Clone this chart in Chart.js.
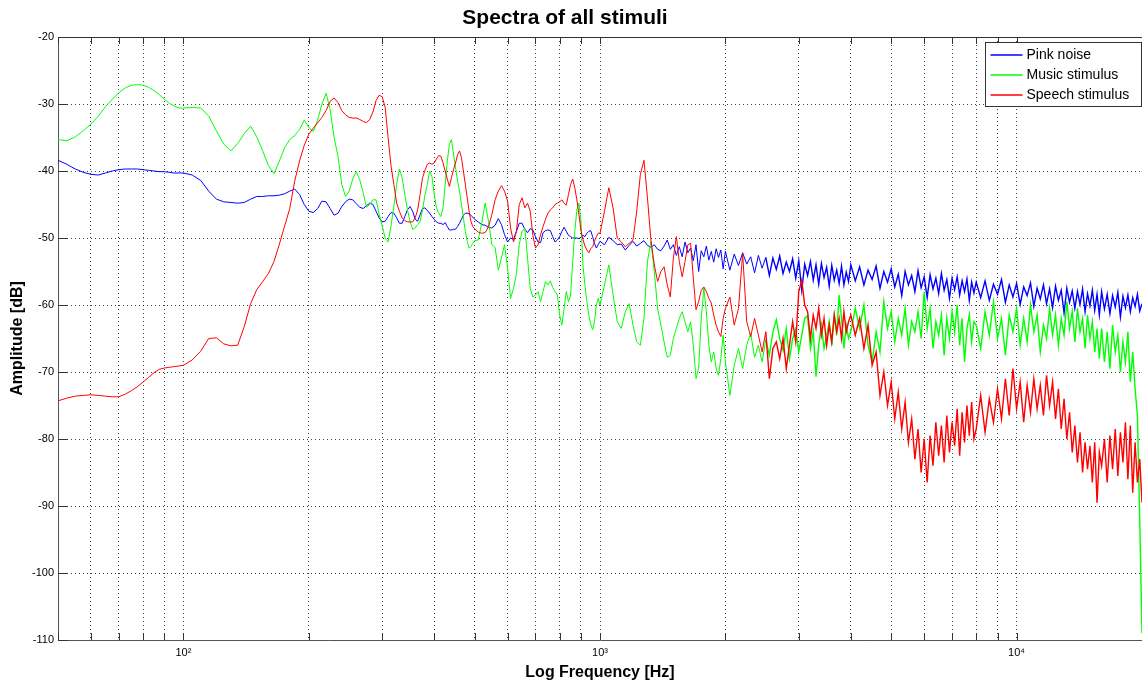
<!DOCTYPE html>
<html>
<head>
<meta charset="utf-8">
<title>Spectra of all stimuli</title>
<script src="https://cdn.jsdelivr.net/npm/chart.js@4.4.1/dist/chart.umd.min.js"></script>
<style>
  html, body { margin: 0; padding: 0; background: #fff; }
  #wrap { width: 1142px; height: 682px; }
</style>
</head>
<body>
<div id="wrap"><canvas id="spectraChart" width="1142" height="682"></canvas></div>
<script>
// Spectra of all stimuli
const freqHz = [
  50, 52.5, 55, 57.5, 60, 62.5, 65, 67.5, 70, 72.5, 75, 77.5, 80, 82.5, 85, 87.5, 90, 92.5, 95, 97.5,
  100, 105, 110, 115, 120, 125, 130, 135, 140, 145, 150, 155, 160, 165, 170, 175, 180, 185, 190, 195,
  200, 205, 210, 215, 220, 225, 230, 235, 240, 245, 250, 255, 260, 265, 270, 275, 280, 285, 290, 295,
  300, 305, 310, 315, 320, 325, 330, 335, 340, 345, 350, 355, 360, 365, 370, 375, 380, 385, 390, 395,
  400, 405, 410, 415, 420, 425, 430, 435, 440, 445, 450, 455, 460, 465, 470, 475, 480, 485, 490, 495,
  500, 510, 520, 530, 540, 550, 560, 570, 580, 590, 600, 610, 620, 630, 640, 650, 660, 670, 680, 690,
  700, 710, 720, 730, 740, 750, 760, 770, 780, 790, 800, 810, 820, 830, 840, 850, 860, 870, 880, 890,
  900, 910, 920, 930, 940, 950, 960, 970, 980, 990,
  1000, 1025, 1050, 1075, 1100, 1125, 1150, 1175, 1200, 1225, 1250, 1275, 1300, 1325, 1350, 1375, 1400, 1425, 1450, 1475,
  1500, 1525, 1550, 1575, 1600, 1625, 1650, 1675, 1700, 1725, 1750, 1775, 1800, 1825, 1850, 1875, 1900, 1925, 1950, 1975,
  2000, 2050, 2100, 2150, 2200, 2250, 2300, 2350, 2400, 2450, 2500, 2550, 2600, 2650, 2700, 2750, 2800, 2850, 2900, 2950,
  3000, 3050, 3100, 3150, 3200, 3250, 3300, 3350, 3400, 3450, 3500, 3550, 3600, 3650, 3700, 3750, 3800, 3850, 3900, 3950,
  4000, 4100, 4200, 4300, 4400, 4500, 4600, 4700, 4800, 4900, 5000, 5100, 5200, 5300, 5400, 5500, 5600, 5700, 5800, 5900,
  6000, 6100, 6200, 6300, 6400, 6500, 6600, 6700, 6800, 6900, 7000, 7100, 7200, 7300, 7400, 7500, 7600, 7700, 7800, 7900,
  8000, 8200, 8400, 8600, 8800, 9000, 9200, 9400, 9600, 9800, 10000, 10200, 10400, 10600, 10800, 11000, 11200, 11400, 11600, 11800,
  12000, 12200, 12400, 12600, 12800, 13000, 13200, 13400, 13600, 13800, 14000, 14200, 14400, 14600, 14800, 15000, 15200, 15400, 15600, 15800,
  16000, 16250, 16500, 16750, 17000, 17250, 17500, 17750, 18000, 18250, 18500, 18750, 19000, 19250, 19500, 19750, 20000
];

const pinkNoiseDb = [
  -38.4, -39.0, -39.7, -40.2, -40.5, -40.6, -40.3, -40.0, -39.8, -39.7, -39.7, -39.7, -39.8, -39.9, -40.0, -40.1, -40.1, -40.2, -40.3, -40.3,
  -40.3, -40.6, -41.4, -43.0, -44.2, -44.6, -44.7, -44.8, -44.7, -44.2, -43.8, -43.8, -43.7, -43.7, -43.6, -43.4, -43.0, -42.7, -43.5, -45.0,
  -46.0, -46.2, -45.6, -44.5, -44.6, -45.6, -46.6, -46.3, -45.3, -44.6, -44.2, -44.3, -44.9, -45.4, -45.6, -45.2, -44.8, -45.0, -46.0, -47.0,
  -47.6, -47.5, -46.8, -46.2, -46.3, -47.0, -47.8, -47.8, -46.8, -45.8, -45.3, -46.0, -47.2, -47.5, -46.5, -45.6, -45.5, -45.9, -46.3, -46.8,
  -47.2, -47.6, -47.8, -47.8, -48.0, -47.7, -48.3, -48.8, -48.8, -48.7, -48.7, -48.3, -47.8, -47.2, -46.6, -46.3, -46.3, -46.4, -46.6, -46.9,
  -47.2, -47.6, -48.0, -48.1, -48.4, -48.5, -48.1, -47.1, -48.0, -49.5, -50.6, -50.0, -50.2, -49.0, -47.8, -47.8, -48.7, -49.2, -48.6, -48.8,
  -49.8, -50.6, -50.7, -49.2, -48.9, -48.8, -48.9, -49.8, -50.6, -50.3, -49.8, -49.0, -48.4, -49.0, -49.6, -49.8, -50.0, -50.0, -50.0, -50.1,
  -49.9, -49.6, -49.8, -49.3, -49.0, -48.9, -49.8, -50.8, -51.5, -51.0,
  -50.5, -51.0, -49.9, -50.4, -51.0, -50.9, -51.8, -51.1, -50.5, -51.2, -50.8, -50.4, -51.1, -51.4, -51.0, -51.7, -51.9, -51.2, -50.3, -51.7,
  -51.0, -52.6, -51.3, -52.8, -50.6, -52.2, -51.5, -53.4, -51.0, -55.0, -51.9, -52.8, -51.2, -53.3, -52.0, -53.6, -51.6, -52.9, -51.8, -54.6,
  -52.0, -54.8, -52.4, -54.1, -52.2, -53.9, -52.8, -55.2, -52.6, -54.5, -52.9, -55.6, -53.0, -54.7, -52.7, -55.3, -53.6, -55.0, -53.1, -56.0,
  -53.4, -57.8, -53.9, -55.6, -53.5, -56.3, -54.0, -56.9, -53.8, -55.9, -54.4, -57.2, -54.1, -56.3, -54.8, -56.8, -54.2, -57.0, -55.1, -56.5,
  -54.0, -56.4, -54.3, -57.0, -54.8, -56.2, -54.2, -57.5, -55.0, -56.6, -54.6, -57.3, -55.4, -58.6, -55.0, -57.0, -55.6, -58.0, -54.9, -57.4,
  -55.8, -58.9, -55.5, -57.6, -56.0, -58.3, -55.3, -57.8, -56.2, -59.0, -56.0, -57.7, -55.8, -58.5, -56.4, -58.0, -56.1, -59.3, -56.6, -58.2,
  -56.6, -58.9, -56.4, -59.3, -56.9, -58.4, -56.2, -59.6, -57.0, -58.8, -56.8, -59.9, -57.3, -58.6, -56.7, -60.2, -57.5, -59.1, -57.0, -59.8,
  -57.6, -60.4, -57.2, -59.3, -57.8, -61.2, -57.5, -59.6, -57.9, -60.5, -58.0, -59.9, -57.6, -61.0, -58.3, -60.1, -57.8, -60.8, -58.4, -61.5,
  -58.0, -60.6, -58.4, -61.3, -58.6, -60.3, -58.1, -61.8, -58.7, -60.4, -58.5, -61.0, -58.9, -60.2, -58.4, -60.9, -59.8
];

const musicDb = [
  -35.3, -35.5, -34.9, -34.0, -33.0, -31.8, -30.4, -29.3, -28.3, -27.6, -27.2, -27.1, -27.2, -27.5, -28.0, -28.6, -29.3, -29.9, -30.3, -30.6,
  -30.6, -30.5, -30.6, -31.8, -34.0, -36.0, -37.0, -35.9, -34.4, -33.3, -34.9, -37.0, -39.2, -40.4, -38.5, -36.5, -35.3, -34.7, -33.8, -32.4,
  -33.5, -34.1, -32.4, -30.0, -28.4, -30.8, -35.0, -37.8, -42.0, -43.8, -43.0, -41.2, -40.1, -41.3, -43.2, -45.4, -45.0, -44.3, -44.3, -46.4,
  -48.2, -50.0, -50.6, -48.2, -45.3, -42.0, -39.7, -41.0, -43.5, -45.8, -47.5, -48.7, -48.5, -48.0, -47.6, -45.8, -43.6, -42.0, -40.0, -40.8,
  -43.5, -45.5, -46.3, -46.8, -45.5, -42.0, -38.5, -36.0, -35.3, -37.5, -39.5, -41.5, -43.0, -45.0, -47.0, -49.0, -50.5, -51.5, -51.3, -50.8,
  -50.4, -50.3, -47.8, -44.8, -47.5, -51.0, -51.4, -54.8, -53.0, -51.0, -54.5, -59.0, -57.5, -55.3, -51.0, -49.0, -48.5, -53.0, -57.5, -58.8,
  -58.5, -58.0, -59.5, -58.0, -56.5, -57.0, -56.4, -57.4, -58.0, -58.5, -61.5, -63.0, -60.5, -58.0, -59.5, -58.5, -53.5, -49.0, -45.8, -44.8,
  -47.5, -54.0, -57.0, -59.5, -61.5, -62.8, -63.7, -62.5, -60.0, -59.0,
  -60.0, -57.0, -54.0, -58.5, -62.5, -63.5, -61.0, -59.8, -63.0, -65.5, -66.0, -62.0, -53.5, -50.5, -55.0, -60.5, -63.0, -65.5, -67.8, -67.5,
  -65.0, -63.5, -62.0, -61.0, -62.5, -64.0, -62.5, -66.0, -71.0, -69.5, -62.0, -57.5, -61.0, -66.0, -68.5, -67.0, -69.5, -70.5, -68.0, -64.5,
  -68.5, -73.5, -69.0, -66.5, -69.5, -66.0, -64.2, -67.8, -66.0, -68.5, -65.2, -67.5, -64.0, -62.2, -65.0, -66.8, -63.5, -68.0, -65.0, -63.6,
  -67.0, -64.5, -62.0, -61.6, -66.5, -64.0, -70.7, -66.0, -63.0, -66.5, -64.7, -62.5, -66.0, -61.5, -64.5, -58.5, -62.0, -66.5, -63.0, -65.0,
  -64.0, -60.5, -63.5, -60.0, -66.0, -68.5, -64.0, -67.0, -59.5, -63.5, -61.0, -65.5, -62.0, -64.5, -60.5, -66.0, -62.5, -64.0, -61.0, -65.0,
  -58.0, -63.5, -60.5, -66.5, -62.5, -64.5, -61.5, -67.5, -62.0, -65.0, -61.0, -64.0, -60.0, -66.0, -62.0, -68.5, -63.5, -61.5, -65.5, -62.5,
  -63.0, -66.5, -61.0, -64.5, -59.5, -65.0, -62.0, -67.5, -61.5, -64.0, -60.5, -66.0, -62.0, -65.5, -60.0, -64.0, -61.5, -67.0, -63.0, -65.0,
  -60.5, -64.5, -61.5, -66.0, -62.0, -64.5, -59.5, -63.5, -61.0, -65.5, -60.5, -64.0, -62.0, -66.5, -61.5, -65.0, -62.5, -67.0, -63.5, -68.0,
  -63.5, -68.5, -64.0, -69.5, -63.0, -67.0, -64.5, -70.0, -65.5, -68.5, -64.0, -71.5, -67.0, -72.5, -76.5, -92.0, -109.0
];

const speechDb = [
  -74.3, -73.9, -73.6, -73.5, -73.4, -73.5, -73.6, -73.7, -73.7, -73.3, -72.8, -72.2, -71.5, -70.8, -70.1, -69.6, -69.4, -69.3, -69.2, -69.1,
  -69.0, -68.2, -66.9, -65.0, -64.9, -65.8, -66.1, -66.0, -63.2, -59.8, -57.7, -56.5, -55.3, -53.5, -50.9, -48.2, -45.6, -41.5, -38.5, -36.2,
  -34.5, -33.6, -32.8, -32.0, -31.0, -29.6, -29.1, -29.8, -31.0, -31.6, -32.0, -32.1, -32.1, -32.3, -32.6, -32.8, -32.3, -31.2, -29.5, -28.7,
  -28.9, -30.5, -35.0, -39.2, -42.0, -44.8, -46.0, -47.0, -47.4, -47.6, -47.6, -47.6, -47.0, -45.8, -43.5, -41.0, -39.9, -39.0, -38.8, -39.0,
  -38.8, -38.2, -37.7, -37.8, -38.8, -40.0, -41.2, -42.3, -41.0, -39.8, -38.8, -37.6, -37.0, -38.0, -40.0, -42.0, -44.0, -46.0, -47.5, -48.3,
  -48.6, -49.1, -49.3, -49.2, -48.3, -46.5, -44.3, -43.0, -42.2, -43.0, -44.5, -48.5, -50.6, -49.0, -45.0, -44.0, -45.5, -44.8, -46.0, -49.6,
  -51.5, -51.0, -49.5, -48.3, -47.2, -46.3, -45.8, -45.5, -45.0, -44.8, -44.6, -44.3, -44.8, -45.1, -43.5, -42.0, -41.2, -42.5, -44.3, -46.5,
  -48.8, -50.2, -51.2, -51.8, -52.2, -51.6, -51.3, -50.5, -49.8, -49.3,
  -49.3, -46.0, -42.5, -45.5, -50.0, -50.6, -51.3, -50.8, -50.3, -46.0, -40.5, -38.4, -44.0, -50.3, -54.0, -56.5, -55.0, -54.3, -57.0, -58.8,
  -53.0, -49.8, -53.5, -55.8, -53.5, -51.0, -50.8, -56.0, -60.7, -59.5, -57.8, -57.3, -58.0, -59.0, -59.7, -61.5, -63.0, -64.0, -64.7, -62.0,
  -60.5, -58.8, -63.0, -60.5, -52.3, -62.5, -64.7, -62.0, -64.5, -67.0, -64.0, -71.0, -66.5, -65.5, -68.0, -65.0, -69.5, -66.0, -62.5, -65.5,
  -58.0, -56.3, -60.0, -61.0, -65.0, -61.5, -63.5, -60.5, -64.5, -62.0, -66.0, -63.0, -65.5, -61.5, -64.0, -62.0, -65.0, -61.0, -64.0, -62.5,
  -61.5, -64.5, -62.0, -66.5, -63.0, -69.0, -67.0, -73.5, -70.0, -75.0, -71.5, -77.0, -73.0, -78.5, -74.5, -80.5, -77.0, -83.0, -78.5, -85.0,
  -80.0, -86.5, -79.5, -84.0, -77.5, -82.5, -78.0, -83.5, -76.5, -82.0, -77.5, -81.0, -75.5, -82.5, -76.0, -80.5, -75.0, -79.5, -74.5, -80.0,
  -78.5, -73.5, -79.0, -74.0, -77.5, -72.5, -77.0, -71.0, -76.5, -69.5, -75.5, -71.5, -77.5, -72.0, -76.0, -71.0, -75.5, -72.0, -76.5, -70.5,
  -75.0, -71.5, -77.0, -72.5, -78.5, -74.0, -80.0, -76.0, -82.0, -78.0, -83.5, -79.0, -85.0, -80.5, -84.5, -81.0, -86.5, -80.5, -89.5, -82.0,
  -84.0, -80.0, -86.5, -79.5, -84.5, -78.5, -85.5, -79.0, -83.5, -77.5, -86.0, -78.0, -88.0, -80.5, -86.5, -83.0, -89.5
];

const chartTitle = 'Spectra of all stimuli';
const seriesLabels = ['Pink noise', 'Music stimulus', 'Speech stimulus'];
const seriesColors = ['#0000ff', '#00ff00', '#ff0000'];

// grid lines of the log axis, labels only at the decades
const xGridHz = [50, 60, 70, 80, 90, 100, 200, 300, 400, 500, 600, 700, 800, 900,
  1000, 2000, 3000, 4000, 5000, 6000, 7000, 8000, 9000, 10000];
const xTickLabels = { 100: '10²', 1000: '10³', 10000: '10⁴' };
const yTicks = [-110, -100, -90, -80, -70, -60, -50, -40, -30, -20];

const FONT = '"Liberation Sans", Arial, Helvetica, sans-serif';

function toPoints(values) {
  const n = Math.min(freqHz.length, values.length);
  const pts = [];
  for (let i = 0; i < n; i++) pts.push({ x: freqHz[i], y: values[i] });
  return pts;
}

// title, top border, inward tick marks and the boxed legend inside the axes
const matlabFrame = {
  id: 'matlabFrame',
  afterDraw(chart) {
    const { ctx, chartArea: a, scales: { x, y } } = chart;
    ctx.save();

    ctx.fillStyle = '#000';
    ctx.font = 'bold 21px ' + FONT;
    ctx.textAlign = 'center';
    ctx.textBaseline = 'middle';
    ctx.fillText(chartTitle, 565, 18);

    ctx.strokeStyle = '#333';
    ctx.lineWidth = 1;
    ctx.beginPath();
    ctx.moveTo(a.left, Math.round(a.top) + 0.5);
    ctx.lineTo(a.right, Math.round(a.top) + 0.5);
    xGridHz.forEach(f => {
      const px = Math.round(x.getPixelForValue(f)) + 0.5;
      ctx.moveTo(px, a.bottom);
      ctx.lineTo(px, a.bottom - 7);
      ctx.moveTo(px, a.top);
      ctx.lineTo(px, a.top + 7);
    });
    yTicks.forEach(v => {
      const py = Math.round(y.getPixelForValue(v)) + 0.5;
      ctx.moveTo(a.left, py);
      ctx.lineTo(a.left + 10, py);
    });
    ctx.stroke();

    // legend
    const lw = 156, lh = 64;
    const lx = Math.round(a.right) - lw - 0.5;
    const ly = Math.round(a.top) + 5.5;
    ctx.fillStyle = '#fff';
    ctx.fillRect(lx, ly, lw, lh);
    ctx.strokeStyle = '#333';
    ctx.strokeRect(lx, ly, lw, lh);
    ctx.font = '14px ' + FONT;
    ctx.textAlign = 'left';
    seriesLabels.forEach((label, i) => {
      const rowY = Math.round(ly + 12 + i * 20);
      ctx.strokeStyle = seriesColors[i];
      ctx.lineWidth = 1.6;
      ctx.beginPath();
      ctx.moveTo(lx + 5, rowY);
      ctx.lineTo(lx + 37, rowY);
      ctx.stroke();
      ctx.fillStyle = '#000';
      ctx.fillText(label, lx + 41, rowY);
    });
    ctx.restore();
  }
};

Chart.defaults.font.family = FONT;
Chart.defaults.color = '#000';

new Chart(document.getElementById('spectraChart'), {
  type: 'line',
  data: {
    datasets: [pinkNoiseDb, musicDb, speechDb].map((values, i) => ({
      label: seriesLabels[i],
      data: toPoints(values),
      borderColor: seriesColors[i],
      backgroundColor: seriesColors[i],
      borderWidth: 1,
      // the dense noise above ~2.5 kHz reads as a solid band in the original
      segment: { borderWidth: (c) => (c.p0.parsed.x >= 2500 ? 1.4 : 1) },
      pointRadius: 0,
      tension: 0,
      fill: false,
      order: 3 - i
    }))
  },
  options: {
    responsive: false,
    animation: false,
    layout: { padding: { top: 37, left: 0, right: 0, bottom: 0 } },
    plugins: {
      legend: { display: false },
      tooltip: { enabled: false },
      title: { display: false }
    },
    scales: {
      x: {
        type: 'logarithmic',
        min: 50,
        max: 20000,
        afterBuildTicks: (scale) => {
          scale.ticks = xGridHz.map(v => ({ value: v }));
        },
        afterFit: (scale) => { scale.height = 42; },
        ticks: {
          autoSkip: false,
          maxRotation: 0,
          padding: 6,
          font: { size: 11 },
          callback: (value) => xTickLabels[value] || ''
        },
        grid: { color: 'rgba(0,0,0,0.75)', lineWidth: 1, drawTicks: false },
        border: { display: true, color: '#555', width: 1, dash: [1, 3] },
        title: {
          display: true,
          text: 'Log Frequency [Hz]',
          font: { size: 16, weight: 'bold' },
          padding: { top: 0, bottom: 0 }
        }
      },
      y: {
        type: 'linear',
        min: -110,
        max: -20,
        afterBuildTicks: (scale) => {
          scale.ticks = yTicks.map(v => ({ value: v }));
        },
        afterFit: (scale) => { scale.width = 58; },
        ticks: { padding: 4, font: { size: 11 } },
        grid: { color: 'rgba(0,0,0,0.75)', lineWidth: 1, drawTicks: false },
        border: { display: true, color: '#555', width: 1, dash: [1, 3] },
        title: {
          display: true,
          text: 'Amplitude [dB]',
          font: { size: 16, weight: 'bold' },
          padding: { top: 8, bottom: 0 }
        }
      }
    }
  },
  plugins: [matlabFrame]
});
</script>
</body>
</html>
